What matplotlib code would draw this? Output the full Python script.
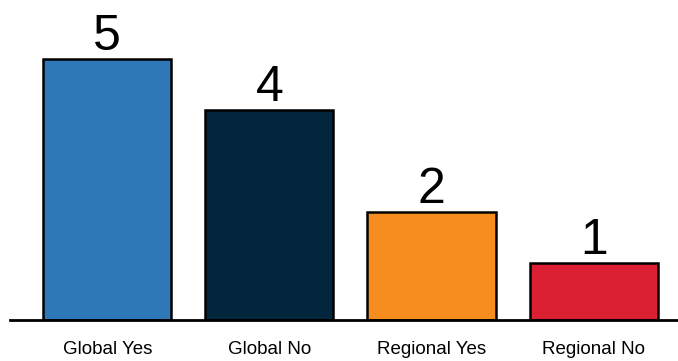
import numpy as np
import matplotlib.pyplot as plt

plt.rcParams['font.family'] = ['Liberation Sans', 'DejaVu Sans']

categories = ['Global Yes', 'Global No', 'Regional Yes', 'Regional No']
counts = [5, 4, 2, 1]
colors = ['#2E78B7', '#03263F', '#F78D1F', '#DA2032']

fig = plt.figure(figsize=(6.78, 3.61), dpi=100)
ax = fig.add_axes([0.0147, 0.1136, 0.9853, 0.864])

# bars run a little below zero so their bottom edges hide under the axis line
base = -0.12
x = np.arange(len(categories))
bars = ax.bar(x, np.array(counts) - base, width=0.79, bottom=base, color=colors,
              edgecolor='black', linewidth=1.8)

for xi, v in zip(x, counts):
    ax.text(xi, v - 0.02, str(v), ha='center', va='bottom', fontsize=36, color='black')

ax.set_xlim(-0.6, 3.52)
ax.set_ylim(base, 6)
ax.set_xticks(x)
ax.set_xticklabels(categories, fontsize=13.5)
ax.tick_params(axis='x', length=0, pad=15)
ax.set_yticks([])
for side in ['top', 'right', 'left']:
    ax.spines[side].set_visible(False)
ax.spines['bottom'].set_linewidth(2)

fig.savefig('out.png', dpi=100)
